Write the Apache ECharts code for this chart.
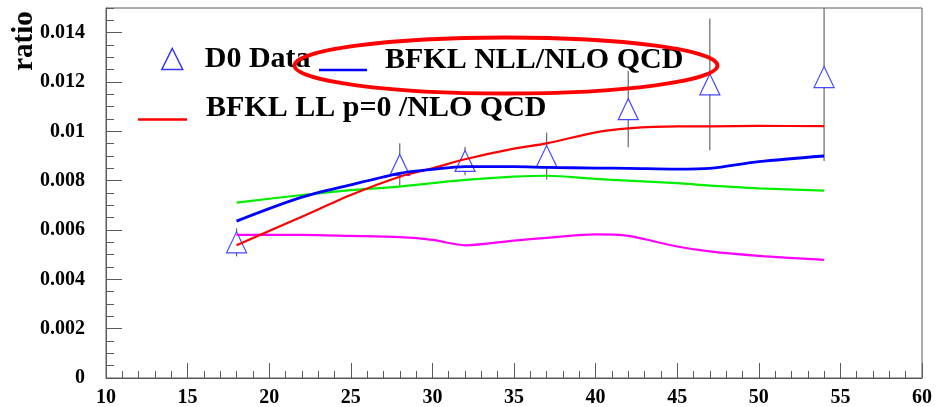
<!DOCTYPE html>
<html>
<head>
<meta charset="utf-8">
<script src="https://cdn.jsdelivr.net/npm/echarts@6/dist/echarts.min.js"></script>
<style>
html,body{margin:0;padding:0;background:#fff;}
#chart{width:938px;height:407px;}
</style>
</head>
<body>
<div id="chart"></div>
<script>
// ---- data ----
const xTicks = [10, 15, 20, 25, 30, 35, 40, 45, 50, 55, 60];
const yTicks = [0, 0.002, 0.004, 0.006, 0.008, 0.01, 0.012, 0.014];

// D0 data points
const dataX   = [18, 28, 32, 37, 42, 47, 54];
const dataY   = [0.0055, 0.00864, 0.0088, 0.0090, 0.0109, 0.0119, 0.0122];
const dataErr = [0.00057, 0.00088, 0.00058, 0.00095, 0.00155, 0.00267, 0.0034];

// theory curves (values read at these x positions)
const curveX   = [18, 22, 25, 28, 30, 32, 35, 37, 40, 42, 45, 47, 50, 54];
const blueY    = [0.00636, 0.00733, 0.00783, 0.0083, 0.00846, 0.00857, 0.00857, 0.00854, 0.00851, 0.0085, 0.00847, 0.0085, 0.00877, 0.0090];
const redY     = [0.00538, 0.00654, 0.00742, 0.00816, 0.0085, 0.00887, 0.0093, 0.00951, 0.00996, 0.01012, 0.0102, 0.0102, 0.01022, 0.01021];
const greenY   = [0.00711, 0.00742, 0.00762, 0.00776, 0.0079, 0.00803, 0.00816, 0.0082, 0.00807, 0.0080, 0.0079, 0.0078, 0.00769, 0.0076];
const magentaY = [0.0058, 0.0058, 0.00576, 0.00571, 0.0056, 0.00538, 0.00557, 0.00568, 0.00582, 0.00576, 0.00533, 0.00513, 0.00495, 0.00479];

const names = ['D0 Data', 'BFKL NLL/NLO QCD', 'BFKL LL p=0 /NLO QCD'];
// ----------------------------------------------

const FONT = 'Liberation Serif';
const AX = '#5a5a5a';
const pairs = (xs, ys) => xs.map((x, i) => [x, ys[i]]);

const chart = echarts.init(document.getElementById('chart'), null, {renderer: 'canvas'});

const xMin = xTicks[0], xMax = xTicks[xTicks.length - 1];
const yMax = 0.015;
const legendText = {fontFamily: FONT, fontWeight: 'bold', fontSize: 30, color: '#000'};
// the line swatches sit on the text baseline: an empty second line lifts the text above the swatch
const baselineFmt = name => name + '\n ';

const option = {
  animation: false,
  backgroundColor: '#fff',
  grid: {left: 106, right: 16, top: 8, bottom: 29, show: true, borderColor: AX, borderWidth: 1, backgroundColor: 'transparent', outerBoundsMode: 'none'},
  legend: [
    {
      data: [{name: names[0], icon: 'triangle', itemStyle: {color: 'rgba(0,0,0,0)', borderColor: '#0000ff', borderWidth: 1.5}, textStyle: {padding: [0, 0, 0, 17]}}],
      left: 161, top: 44, padding: 0, itemWidth: 21, itemHeight: 21, selectedMode: false,
      textStyle: legendText
    },
    {
      data: [{name: names[1], icon: 'rect', itemStyle: {color: '#0000ff', borderWidth: 0}, textStyle: {padding: [0, 0, 0, 13]}}],
      formatter: baselineFmt,
      left: 319, top: 45, padding: 0, itemWidth: 48, itemHeight: 2.5, selectedMode: false,
      textStyle: Object.assign({lineHeight: 20}, legendText)
    },
    {
      data: [{name: names[2], icon: 'rect', itemStyle: {color: '#ff0000', borderWidth: 0}, textStyle: {padding: [0, 0, 0, 14]}}],
      formatter: baselineFmt,
      left: 138, top: 93.5, padding: 0, itemWidth: 49, itemHeight: 2.5, selectedMode: false,
      textStyle: Object.assign({lineHeight: 22}, legendText)
    }
  ],
  xAxis: [
    {
      type: 'value', position: 'bottom', min: xMin, max: xMax, interval: xTicks[1] - xTicks[0],
      axisLine: {show: true, onZero: false, lineStyle: {color: AX, width: 1}},
      axisTick: {show: true, inside: true, length: 15, lineStyle: {color: AX, width: 1}},
      axisLabel: {show: true, margin: 10, fontFamily: FONT, fontWeight: 'bold', fontSize: 20, color: '#000'},
      splitLine: {show: false}
    },
    {
      type: 'value', position: 'bottom', min: xMin, max: xMax, interval: 1,
      axisLine: {show: false, onZero: false},
      axisTick: {show: true, inside: true, length: 7, lineStyle: {color: AX, width: 1}},
      axisLabel: {show: false}, splitLine: {show: false}
    }
  ],
  yAxis: [
    {
      type: 'value', position: 'left', min: 0, max: yMax, interval: yTicks[1] - yTicks[0],
      name: 'ratio', nameLocation: 'end', nameGap: -33, nameRotate: 90, nameMoveOverlap: false,
      nameTextStyle: {fontFamily: FONT, fontWeight: 'bold', fontSize: 29, color: '#000', align: 'center', verticalAlign: 'bottom', padding: [0, 0, 67, 0]},
      axisLine: {show: true, onZero: false, lineStyle: {color: AX, width: 1}},
      axisTick: {show: true, inside: true, length: 16, lineStyle: {color: AX, width: 1}},
      axisLabel: {
        show: true, margin: 21, showMaxLabel: false, fontFamily: FONT, fontWeight: 'bold', fontSize: 20, color: '#000',
        formatter: v => (yTicks.some(t => Math.abs(t - v) < 1e-9) ? String(parseFloat(v.toFixed(4))) : '')
      },
      splitLine: {show: false}
    },
    {
      type: 'value', position: 'left', min: 0, max: yMax, interval: 0.0005,
      axisLine: {show: false, onZero: false},
      axisTick: {show: true, inside: true, length: 8, lineStyle: {color: AX, width: 1}},
      axisLabel: {show: false}, splitLine: {show: false}
    }
  ],
  graphic: [
    {type: 'ellipse', z: 100, shape: {cx: 506, cy: 65.5, rx: 211.5, ry: 28}, style: {fill: null, stroke: '#ff0000', lineWidth: 3.8}}
  ],
  series: [
    {
      name: 'D0 Data errors', type: 'custom', xAxisIndex: 0, yAxisIndex: 0, z: 2, silent: true,
      data: dataX.map((x, i) => [x, dataY[i], dataErr[i]]),
      renderItem: function (params, api) {
        const x = api.value(0), y = api.value(1), e = api.value(2);
        const c = api.coord([x, y]);
        const top = api.coord([x, y + e]);
        const bot = api.coord([x, y - e]);
        const lim = api.coord([x, yMax]);
        const yTop = Math.max(top[1], lim[1]);
        const half = 10.5;
        return {
          type: 'group',
          children: [
            {type: 'line', shape: {x1: c[0], y1: yTop, x2: c[0], y2: c[1] - half}, style: {stroke: '#666', lineWidth: 1.2}},
            {type: 'line', shape: {x1: c[0], y1: c[1] + half, x2: c[0], y2: bot[1]}, style: {stroke: '#666', lineWidth: 1.2}}
          ]
        };
      }
    },
    {
      name: names[0], type: 'scatter', xAxisIndex: 0, yAxisIndex: 0, z: 3,
      symbol: 'triangle', symbolSize: [20, 21],
      itemStyle: {color: 'rgba(0,0,0,0)', borderColor: '#1a1aff', borderWidth: 1.2},
      data: pairs(dataX, dataY)
    },
    {
      name: 'green curve', type: 'line', z: 4, showSymbol: false, smooth: 0.3,
      lineStyle: {color: '#00ee00', width: 2.2}, itemStyle: {color: '#00ee00'},
      data: pairs(curveX, greenY)
    },
    {
      name: 'magenta curve', type: 'line', z: 4, showSymbol: false, smooth: 0.3,
      lineStyle: {color: '#ff00ff', width: 2.2}, itemStyle: {color: '#ff00ff'},
      data: pairs(curveX, magentaY)
    },
    {
      name: names[2], type: 'line', z: 5, showSymbol: false, smooth: 0.3,
      lineStyle: {color: '#ff0000', width: 2.2}, itemStyle: {color: '#ff0000'},
      data: pairs(curveX, redY)
    },
    {
      name: names[1], type: 'line', z: 6, showSymbol: false, smooth: 0.3,
      lineStyle: {color: '#0000ff', width: 2.8}, itemStyle: {color: '#0000ff'},
      data: pairs(curveX, blueY)
    }
  ]
};
chart.setOption(option);
</script>
</body>
</html>
